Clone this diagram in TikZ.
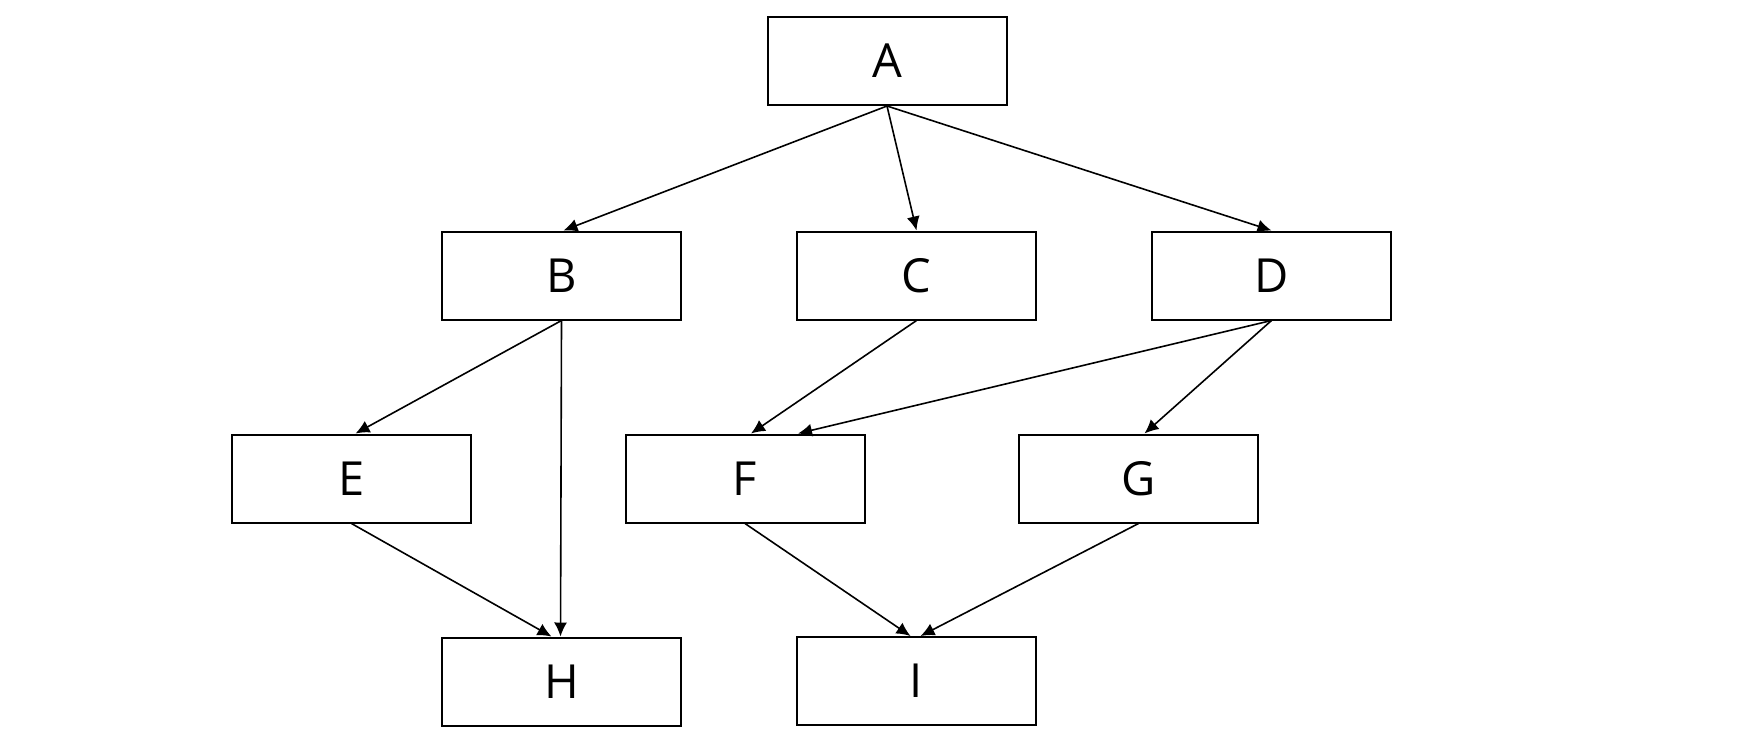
\documentclass[tikz,border=0pt]{standalone}
\usepackage{fontspec}
\setmainfont{Open Sans}
\usetikzlibrary{arrows.meta,calc}
\begin{document}
\begin{tikzpicture}[x=0.5pt,y=-0.5pt,
  box/.style={draw=black,line width=1pt,rectangle,minimum width=119.5pt,minimum height=44pt,inner sep=0pt,
    font=\fontsize{23.5}{23.5}\selectfont},
  conn/.style={draw=black,line width=0.8pt,-{Latex[length=7pt,width=6.5pt]}}]
\useasboundingbox[fill=white] (0,0) rectangle (1764,750);
\node[box] (A) at (887,61) {A};
\node[box] (B) at (561.5,275.5) {B};
\node[box] (C) at (916.5,275.5) {C};
\node[box] (D) at (1271.5,275.5) {D};
\node[box] (E) at (351.5,478.5) {E};
\node[box] (F) at (745,478.5) {F};
\node[box] (G) at (1138.5,478.5) {G};
\node[box] (H) at (561.5,681.5) {H};
\node[box] (I) at (916.5,681) {I};
\coordinate (Bt) at ($(B.north)+(2,0)$);
\coordinate (Et) at ($(E.north)+(4,0)$);
\coordinate (Ht1) at ($(H.north)+(-10,0)$);
\coordinate (Ht2) at ($(H.north)+(-1,0)$);
\coordinate (Ft1) at ($(F.north)+(6,0)$);
\coordinate (Ft2) at ($(F.north)+(53,0)$);
\coordinate (Gt) at ($(G.north)+(6,0)$);
\coordinate (It1) at ($(I.north)+(-6,0)$);
\coordinate (It2) at ($(I.north)+(4,0)$);
\draw[conn] (A.south) -- (Bt);
\draw[conn] (A.south) -- (C.north);
\draw[conn] (A.south) -- (D.north);
\draw[conn] (B.south) -- (Et);
\draw[conn] (B.south) -- (Ht2);
\draw[conn] (C.south) -- (Ft1);
\draw[conn] (D.south) -- (Ft2);
\draw[conn] (D.south) -- (Gt);
\draw[conn] (E.south) -- (Ht1);
\draw[conn] (F.south) -- (It1);
\draw[conn] (G.south) -- (It2);
\end{tikzpicture}
\end{document}
